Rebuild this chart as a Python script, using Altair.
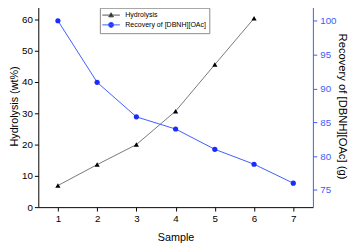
import altair as alt
import pandas as pd

samples_h = [1, 2, 3, 4, 5, 6]
hydrolysis = [6.9, 13.6, 20.0, 30.7, 45.6, 60.4]
samples_r = [1, 2, 3, 4, 5, 6, 7]
recovery = [100.0, 90.9, 85.8, 84.0, 81.0, 78.8, 76.0]
series_names = ["Hydrolysis", "Recovery of [DBNH][OAc]"]
x_ticks = [1, 2, 3, 4, 5, 6, 7]
left_ticks = [0, 10, 20, 30, 40, 50, 60]
right_ticks = [75, 80, 85, 90, 95, 100]

FONT = "Liberation Sans"
BLUE_LINE = "#3b5bff"
BLUE_PT = "#1a2bff"
BLUE_AX = "#3b5bff"

df_h = pd.DataFrame({"sample": samples_h, "value": hydrolysis})
df_r = pd.DataFrame({"sample": samples_r, "value": recovery})
df_leg = pd.DataFrame({"series": series_names})

xscale = alt.Scale(domain=[0.5, 7.5], nice=False, zero=False)
xaxis = alt.Axis(values=x_ticks, title="Sample", grid=False, tickSize=4,
                 labelPadding=3, titlePadding=8, domainColor="black",
                 tickColor="black", format="d")
x_enc = alt.X("sample:Q", scale=xscale, axis=xaxis)

yl_scale = alt.Scale(domain=[0, 64.7], nice=False, zero=False)
yl_axis = alt.Axis(values=left_ticks, title="Hydrolysis (wt%)", grid=False,
                   orient="left", tickSize=4, labelPadding=2, titlePadding=2,
                   domainColor="black", tickColor="black")
yr_scale = alt.Scale(domain=[72.46, 102.35], nice=False, zero=False)
yr_axis = alt.Axis(values=right_ticks, title="Recovery of [DBNH][OAc] (g)",
                   grid=False, orient="right", tickSize=4, labelPadding=3,
                   titlePadding=1, domainColor=BLUE_AX, tickColor=BLUE_AX,
                   labelColor=BLUE_AX, titleColor="black", titleFontSize=11.5)

line_h = alt.Chart(df_h).mark_line(color="#555555", strokeWidth=0.8).encode(
    x=x_enc, y=alt.Y("value:Q", scale=yl_scale, axis=yl_axis))
pts_h = alt.Chart(df_h).mark_point(shape="triangle-up", filled=True, color="black",
                                   size=28, opacity=1).encode(
    x=x_enc, y=alt.Y("value:Q", scale=yl_scale, axis=yl_axis))

tri_path = "M-2.25,0H2.25M0,-0.6L0.62,0.45L-0.62,0.45Z"
circ_path = "M-2.25,0H2.25M0.65,0A0.65,0.65,0,1,1,-0.65,0A0.65,0.65,0,1,1,0.65,0Z"

shadow = alt.Chart(df_leg).mark_rect(color="black").encode(
    x=alt.value(65), x2=alt.value(172), y=alt.value(5), y2=alt.value(27))

legend_helper = alt.Chart(df_leg).mark_point(clip=True, opacity=1, strokeWidth=1).encode(
    x=alt.value(-100), y=alt.value(-100),
    shape=alt.Shape("series:N", scale=alt.Scale(domain=series_names, range=[tri_path, circ_path]),
                    legend=alt.Legend(title=None, orient="none", legendX=63, legendY=3,
                                      symbolSize=64, labelFontSize=7.2, labelFont=FONT,
                                      fillColor="white", strokeColor="#888888",
                                      padding=3, rowPadding=0, labelOffset=10,
                                      symbolOffset=4,
                                      symbolStrokeWidth=1, cornerRadius=0)),
    fill=alt.Fill("series:N", scale=alt.Scale(domain=series_names, range=["black", BLUE_PT]),
                  legend=alt.Legend(title=None)),
    stroke=alt.Stroke("series:N", scale=alt.Scale(domain=series_names, range=["#555555", BLUE_LINE]),
                      legend=alt.Legend(title=None)),
)

line_r = alt.Chart(df_r).mark_line(color=BLUE_LINE, strokeWidth=1).encode(
    x=x_enc, y=alt.Y("value:Q", scale=yr_scale, axis=yr_axis))
pts_r = alt.Chart(df_r).mark_point(shape="circle", filled=True, color=BLUE_PT,
                                   size=28, opacity=1).encode(
    x=x_enc, y=alt.Y("value:Q", scale=yr_scale, axis=yr_axis))

left = alt.layer(shadow, line_h, pts_h, legend_helper)
right = alt.layer(line_r, pts_r)

chart = alt.layer(left, right).resolve_scale(y="independent").properties(
    width=281, height=207,
    autosize=alt.AutoSizeParams(type="none"),
    padding={"left": 31, "top": -6, "right": 40, "bottom": 37},
).configure_view(stroke=None).configure_axis(
    labelFont=FONT, titleFont=FONT, labelFontSize=10, titleFontSize=11,
    titleFontWeight="normal", domainWidth=1, tickWidth=1,
)

chart.save("out.html", embed_options={"renderer": "svg", "actions": False})
